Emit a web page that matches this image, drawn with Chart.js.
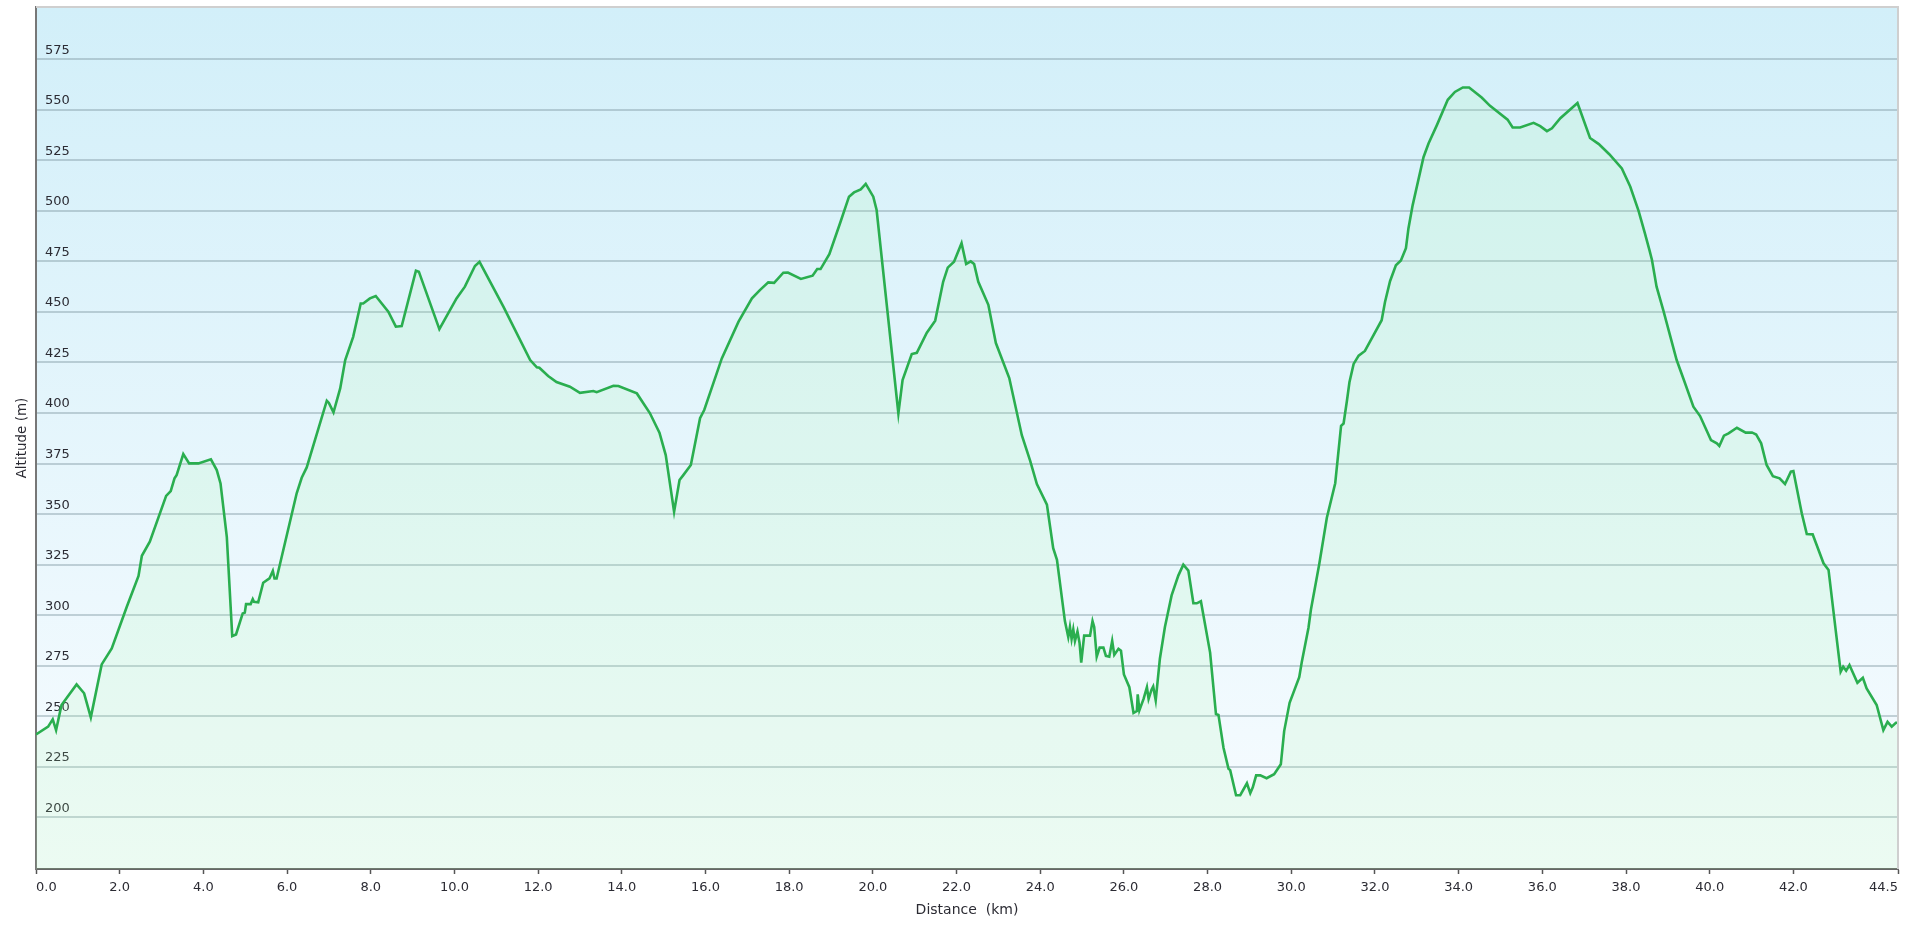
<!DOCTYPE html>
<html>
<head>
<meta charset="utf-8">
<title>Altitude profile</title>
<script src="https://cdn.jsdelivr.net/npm/chart.js@4.4.0/dist/chart.umd.min.js"></script>
<style>
  html, body { margin: 0; padding: 0; background: #fff; }
  #wrap { width: 1906px; height: 928px; position: relative; }
</style>
</head>
<body>
<div id="wrap"><canvas id="profileChart"></canvas></div>
<script>
// --- Profile (distance in km, altitude in m) ---
const DIST_KM = [
  0.00, 0.29, 0.40, 0.48, 0.61, 0.97, 1.15, 1.31, 1.57, 1.81,
  2.17, 2.45, 2.53, 2.72, 3.11, 3.22, 3.31, 3.36, 3.52, 3.66,
  3.88, 4.18, 4.32, 4.41, 4.56, 4.69, 4.78, 4.94, 4.99, 5.02,
  5.13, 5.18, 5.21, 5.31, 5.43, 5.58, 5.66, 5.70, 5.75, 6.23,
  6.35, 6.47, 6.95, 7.00, 7.11, 7.27, 7.39, 7.58, 7.76, 7.82,
  7.98, 8.12, 8.42, 8.60, 8.74, 9.08, 9.15, 9.64, 10.05, 10.25,
  10.49, 10.60, 11.17, 11.81, 11.97, 12.03, 12.24, 12.44, 12.76, 13.00,
  13.32, 13.40, 13.80, 13.92, 14.36, 14.67, 14.90, 15.05, 15.25, 15.38,
  15.47, 15.65, 15.87, 15.97, 16.39, 16.79, 17.11, 17.30, 17.50, 17.64,
  17.86, 17.97, 18.28, 18.56, 18.67, 18.75, 18.96, 19.22, 19.43, 19.55,
  19.71, 19.83, 20.01, 20.09, 20.61, 20.71, 20.93, 21.05, 21.29, 21.49,
  21.68, 21.79, 21.94, 22.12, 22.23, 22.34, 22.42, 22.52, 22.76, 22.94,
  23.26, 23.56, 23.76, 23.92, 24.16, 24.31, 24.40, 24.59, 24.67, 24.71,
  24.75, 24.79, 24.83, 24.89, 24.94, 24.98, 25.05, 25.19, 25.25, 25.29,
  25.35, 25.42, 25.51, 25.57, 25.65, 25.72, 25.77, 25.87, 25.93, 26.00,
  26.13, 26.23, 26.31, 26.33, 26.37, 26.47, 26.55, 26.59, 26.66, 26.70,
  26.76, 26.86, 26.98, 27.14, 27.30, 27.42, 27.54, 27.66, 27.74, 27.84,
  28.06, 28.20, 28.26, 28.38, 28.50, 28.54, 28.68, 28.78, 28.94, 29.02,
  29.08, 29.16, 29.26, 29.41, 29.59, 29.75, 29.83, 29.96, 30.19, 30.25,
  30.41, 30.47, 30.67, 30.85, 31.05, 31.19, 31.25, 31.33, 31.39, 31.49,
  31.61, 31.76, 31.92, 32.16, 32.24, 32.36, 32.50, 32.62, 32.74, 32.80,
  32.90, 33.16, 33.28, 33.48, 33.74, 33.91, 34.10, 34.25, 34.55, 34.75,
  35.17, 35.29, 35.47, 35.79, 35.95, 36.11, 36.23, 36.43, 36.84, 37.14,
  37.35, 37.60, 37.90, 38.10, 38.30, 38.45, 38.56, 38.62, 38.73, 38.89,
  39.21, 39.37, 39.61, 39.77, 40.03, 40.17, 40.23, 40.34, 40.45, 40.65,
  40.86, 41.01, 41.11, 41.23, 41.36, 41.51, 41.67, 41.80, 41.94, 42.00,
  42.20, 42.32, 42.46, 42.72, 42.84, 43.02, 43.13, 43.19, 43.26, 43.34,
  43.53, 43.66, 43.75, 43.99, 44.15, 44.25, 44.35, 44.45, 44.50
];

const ALT_M = [
  241, 244.9, 248.5, 243.2, 255.6, 265.8, 261.4, 249.5, 275.7, 283.6,
  304.2, 319.4, 329.4, 336.4, 359, 361.4, 367.7, 369.3, 379.7, 375.1,
  375.1, 377.1, 371.8, 365.2, 338.8, 289.7, 290.5, 300.9, 301.3, 305.5,
  305.5, 307.9, 306.6, 306.4, 316.1, 318.2, 321.9, 318.2, 318.2, 360.3,
  368, 373.1, 406.1, 405, 400.3, 412.2, 426.2, 437.7, 454.2, 454.2,
  456.7, 457.9, 450.1, 442.7, 443, 470.4, 469.9, 441.5, 456.7, 462.5,
  472.7, 474.8, 452.6, 426.2, 422.6, 422.4, 418.3, 415.3, 413, 410,
  410.9, 410.3, 413.5, 413.4, 409.7, 400, 390.3, 379.2, 351.2, 366.9,
  369.3, 374.3, 397.4, 401.5, 427, 445.2, 456.7, 460.8, 464.6, 464.4,
  469.4, 469.5, 466.3, 467.9, 471.2, 471.2, 478.6, 494.1, 507, 509.1,
  510.6, 513.3, 507, 500.4, 399.8, 416.3, 429.2, 429.8, 439.7, 445.7,
  464.9, 471.9, 474.8, 484, 473.7, 475, 473.7, 464.9, 453.5, 434.6,
  417.3, 389, 376.3, 364.9, 354.7, 333.2, 327.4, 297.1, 289.2, 294.2,
  288.3, 293, 287.3, 292, 286.3, 276.6, 289.9, 289.9, 297.1, 294.2,
  279.5, 284, 284, 279.9, 279.5, 287.3, 280.4, 283.4, 282.5, 270.7,
  264.4, 251.7, 252.6, 260.9, 253, 258.6, 264.4, 258.6, 263.2, 264.8,
  258, 278.5, 294.2, 309.8, 319.6, 325, 322.1, 305.9, 305.9, 306.9,
  281.5, 251.1, 250.7, 234.5, 224.1, 223.4, 211, 211, 216.9, 212,
  214.9, 220.8, 220.8, 219.4, 221.4, 226.3, 242.7, 256.7, 269.4, 276.7,
  293.7, 302.8, 325.5, 348.2, 365.3, 393.7, 394.8, 406.1, 415.2, 424.3,
  428.4, 430.7, 436.8, 445.9, 454.9, 465.2, 473.1, 475.4, 481.5, 491.3,
  502.7, 526.5, 533.3, 542.4, 554.9, 558.8, 561, 561, 556, 551.9,
  545.1, 541.2, 541.2, 543.5, 541.9, 539.4, 540.8, 545.8, 553.3, 536,
  533, 528, 521, 512, 500, 489, 480.6, 475.7, 462.5, 450.9,
  426.2, 417.1, 403.1, 398.5, 386.6, 385, 383.7, 388.8, 389.9, 392.7,
  390.3, 390.4, 389.4, 385, 374.3, 368.8, 367.7, 364.9, 371, 371.3,
  350.4, 340.2, 340, 325.7, 322.4, 291, 272.1, 274.5, 272.6, 275.4,
  266.6, 269.1, 263.8, 255.6, 243.2, 247.3, 244.9, 246.8, 246.8
];

const X_TICKS = [0, 2, 4, 6, 8, 10, 12, 14, 16, 18, 20, 22, 24, 26, 28, 30, 32, 34, 36, 38, 40, 42, 44.5];
const Y_TICKS = [200, 225, 250, 275, 300, 325, 350, 375, 400, 425, 450, 475, 500, 525, 550, 575];
const X_MIN = 0, X_MAX = 44.5;
const Y_MIN = 174.5, Y_MAX = 600.8;

if (DIST_KM.length !== ALT_M.length) console.warn('length mismatch', DIST_KM.length, ALT_M.length);

const FONT = 'DejaVu Sans, Verdana, sans-serif';
const TEXT = '#2b2b33';

// plot background: sky blue fading to white, plus light frame on top/right
const plotFrame = {
  id: 'plotFrame',
  beforeDraw(chart) {
    const { ctx, chartArea: a } = chart;
    const g = ctx.createLinearGradient(0, a.top, 0, a.bottom);
    g.addColorStop(0, '#d2eff9');
    g.addColorStop(1, '#f8fcff');
    ctx.save();
    ctx.fillStyle = g;
    ctx.fillRect(a.left, a.top, a.right - a.left, a.bottom - a.top);
    ctx.restore();
  },
  afterDraw(chart) {
    const { ctx, chartArea: a } = chart;
    ctx.save();
    ctx.strokeStyle = '#cfcfcf';
    ctx.lineWidth = 2;
    ctx.beginPath();
    ctx.moveTo(a.left, a.top);
    ctx.lineTo(a.right, a.top);
    ctx.lineTo(a.right, a.bottom);
    ctx.stroke();
    ctx.restore();
  }
};

function zeroPadding(scale) {
  scale.paddingTop = 0;
  scale.paddingBottom = 0;
  scale.paddingLeft = 0;
  scale.paddingRight = 0;
}

const points = DIST_KM.map((d, i) => ({ x: d, y: ALT_M[i] }));

new Chart(document.getElementById('profileChart'), {
  type: 'line',
  data: {
    datasets: [{
      label: 'Altitude',
      data: points,
      borderColor: '#2aae4f',
      borderWidth: 2.6,
      backgroundColor: 'rgba(170,245,170,0.15)',
      fill: 'start',
      pointRadius: 0,
      tension: 0
    }]
  },
  options: {
    responsive: true,
    maintainAspectRatio: false,
    animation: false,
    layout: { padding: { top: 7, right: 8, left: 0, bottom: 0 } },
    plugins: { legend: { display: false }, tooltip: { enabled: false } },
    scales: {
      x: {
        type: 'linear',
        min: X_MIN,
        max: X_MAX,
        afterBuildTicks: s => { s.ticks = X_TICKS.map(v => ({ value: v })); },
        afterFit: s => { s.height = 59; zeroPadding(s); },
        grid: { drawOnChartArea: false, tickLength: 5, tickColor: '#555', tickWidth: 1.5 },
        border: { color: '#666', width: 2 },
        ticks: {
          align: 'inner',
          padding: 6,
          maxRotation: 0,
          autoSkip: false,
          color: TEXT,
          font: { family: FONT, size: 13 },
          callback: v => Number(v).toFixed(1)
        },
        title: {
          display: true,
          text: 'Distance  (km)',
          color: TEXT,
          font: { family: FONT, size: 14 },
          padding: { top: 0, bottom: 9.5 }
        }
      },
      y: {
        type: 'linear',
        min: Y_MIN,
        max: Y_MAX,
        afterBuildTicks: s => { s.ticks = Y_TICKS.map(v => ({ value: v })); },
        afterFit: s => { s.width = 36; zeroPadding(s); },
        grid: { color: 'rgba(120,145,155,0.4)', lineWidth: 2, drawTicks: false },
        border: { color: '#777', width: 2 },
        ticks: {
          mirror: true,
          padding: 9,
          labelOffset: -9,
          color: TEXT,
          font: { family: FONT, size: 13 },
          callback: v => String(v)
        },
        title: {
          display: true,
          text: 'Altitude (m)',
          color: TEXT,
          font: { family: FONT, size: 13.5 },
          padding: { top: 14.5, bottom: 0 }
        }
      }
    }
  },
  plugins: [plotFrame]
});
</script>
</body>
</html>
